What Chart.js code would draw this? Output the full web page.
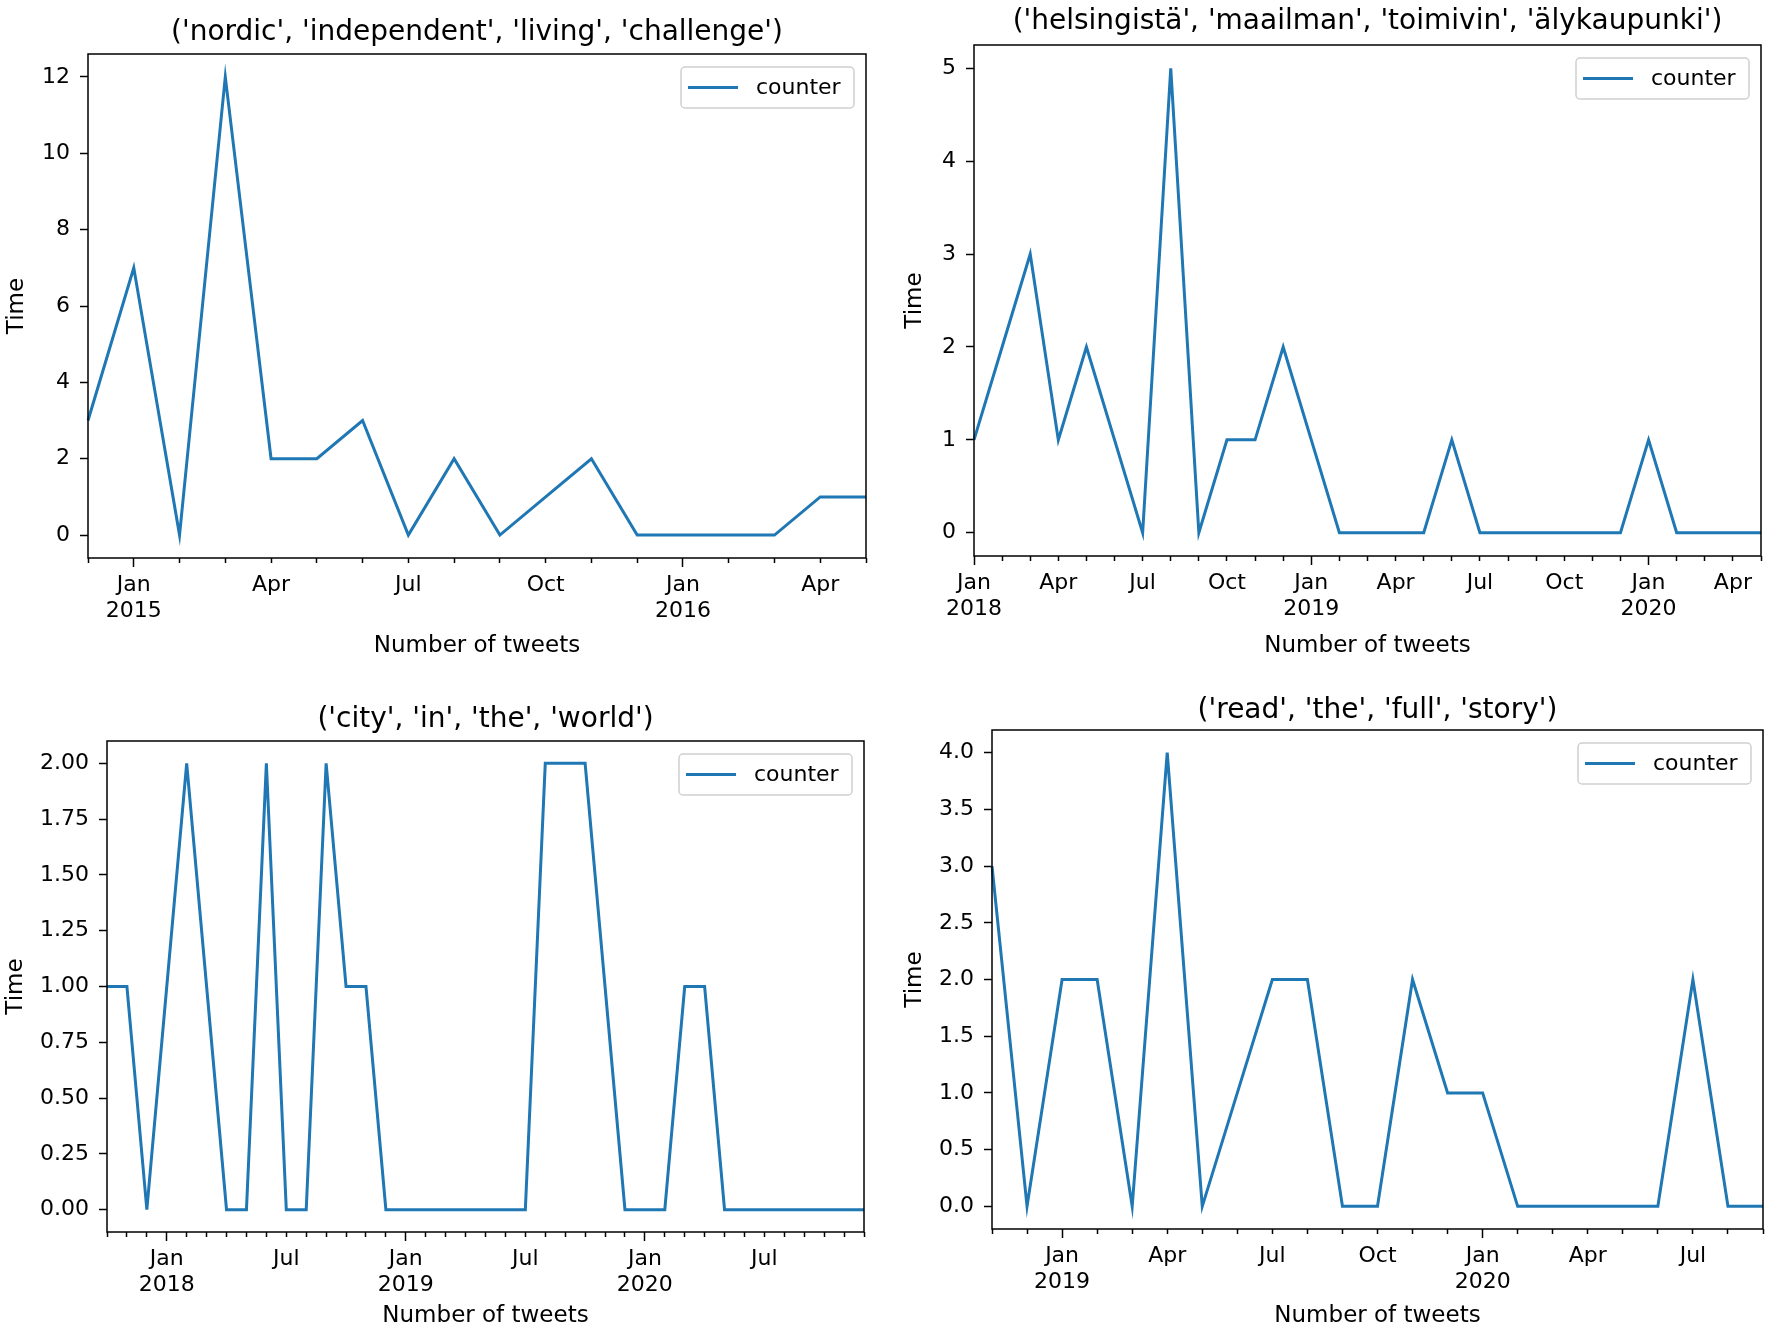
<!DOCTYPE html>
<html>
<head>
<meta charset="utf-8">
<script src="https://cdn.jsdelivr.net/npm/chart.js@4.4.1/dist/chart.umd.min.js"></script>
<style>
  body { margin: 0; background: #fff; }
  #wrap { position: relative; width: 1772px; height: 1331px; background: #fff; }
  canvas { position: absolute; }
</style>
</head>
<body>
<div id="wrap">
  <canvas id="g1" width="886" height="665" style="left:0;top:0;width:886px;height:665px"></canvas>
  <canvas id="g2" width="886" height="665" style="left:886px;top:0;width:886px;height:665px"></canvas>
  <canvas id="g3" width="886" height="666" style="left:0;top:665px;width:886px;height:666px"></canvas>
  <canvas id="g4" width="886" height="666" style="left:886px;top:665px;width:886px;height:666px"></canvas>
</div>
<script>
// dados de cada grafico (contagem mensal)
const mesesNordic = ['2014-12','2015-01','2015-02','2015-03','2015-04','2015-05','2015-06','2015-07','2015-08','2015-09','2015-10','2015-11','2015-12','2016-01','2016-02','2016-03','2016-04','2016-05'];
const valoresNordic = [3,7,0,12,2,2,3,0,2,0,1,2,0,0,0,0,1,1];
const ticksNordic = [0,2,4,6,8,10,12];

const mesesHelsinki = ['2018-01','2018-02','2018-03','2018-04','2018-05','2018-06','2018-07','2018-08','2018-09','2018-10','2018-11','2018-12','2019-01','2019-02','2019-03','2019-04','2019-05','2019-06','2019-07','2019-08','2019-09','2019-10','2019-11','2019-12','2020-01','2020-02','2020-03','2020-04','2020-05'];
const valoresHelsinki = [1,2,3,1,2,1,0,5,0,1,1,2,1,0,0,0,0,1,0,0,0,0,0,0,1,0,0,0,0];
const ticksHelsinki = [0,1,2,3,4,5];

const mesesCity = ['2017-10','2017-11','2017-12','2018-01','2018-02','2018-03','2018-04','2018-05','2018-06','2018-07','2018-08','2018-09','2018-10','2018-11','2018-12','2019-01','2019-02','2019-03','2019-04','2019-05','2019-06','2019-07','2019-08','2019-09','2019-10','2019-11','2019-12','2020-01','2020-02','2020-03','2020-04','2020-05','2020-06','2020-07','2020-08','2020-09','2020-10','2020-11','2020-12'];
const valoresCity = [1,1,0,1,2,1,0,0,2,0,0,2,1,1,0,0,0,0,0,0,0,0,2,2,2,1,0,0,0,1,1,0,0,0,0,0,0,0,0];
const ticksCity = [0,0.25,0.5,0.75,1,1.25,1.5,1.75,2];

const mesesRead = ['2018-11','2018-12','2019-01','2019-02','2019-03','2019-04','2019-05','2019-06','2019-07','2019-08','2019-09','2019-10','2019-11','2019-12','2020-01','2020-02','2020-03','2020-04','2020-05','2020-06','2020-07','2020-08','2020-09'];
const valoresRead = [3,0,2,2,0,4,0,1,2,2,0,0,2,1,1,0,0,0,0,0,2,0,0];
const ticksRead = [0,0.5,1,1.5,2,2.5,3,3.5,4];

const nomesMeses = ['Jan','Feb','Mar','Apr','May','Jun','Jul','Aug','Sep','Oct','Nov','Dec'];

Chart.defaults.font.family = 'DejaVu Sans';
Chart.defaults.color = '#000';

const FONTE = 22;
const FONTE_EIXO = 23;
const FONTE_TITULO = 28;

//desenha a moldura do eixo e a legenda no canto
const moldura = {
    id: 'moldura',
    afterDatasetsDraw(chart) {
        const {ctx, chartArea} = chart;
        ctx.save();
        ctx.strokeStyle = '#000';
        ctx.lineWidth = 1.5;
        ctx.strokeRect(chartArea.left, chartArea.top, chartArea.right - chartArea.left, chartArea.bottom - chartArea.top);

        const ds = chart.data.datasets[0];
        const w = 173, h = 41;
        const x = chartArea.right - 12 - w;
        const y = chartArea.top + 13;
        ctx.beginPath();
        ctx.roundRect(x, y, w, h, 4);
        ctx.fillStyle = 'rgba(255,255,255,0.8)';
        ctx.fill();
        ctx.strokeStyle = '#d0d0d0';
        ctx.lineWidth = 1.5;
        ctx.stroke();

        ctx.beginPath();
        ctx.moveTo(x + 7, y + h / 2);
        ctx.lineTo(x + 57, y + h / 2);
        ctx.strokeStyle = ds.borderColor;
        ctx.lineWidth = 3;
        ctx.stroke();

        ctx.fillStyle = '#000';
        ctx.font = FONTE + 'px "DejaVu Sans"';
        ctx.textBaseline = 'middle';
        ctx.textAlign = 'left';
        ctx.fillText(ds.label, x + 75, y + h / 2 + 1);
        ctx.restore();
    }
};

function criaGrafico(id, titulo, meses, valores, yTicks, casas, mesesRotulo, caixa) {
    const canvas = document.getElementById(id);
    const W = canvas.width, H = canvas.height;
    const lhE = FONTE_EIXO * 1.2, lhT = FONTE_TITULO * 1.2;
    const lo = Math.min(...valores), hi = Math.max(...valores);
    const margem = (hi - lo) * 0.05;
    const padTop = caixa.tituloY - lhT / 2;
    const ehJan = (i) => meses[i] && meses[i].endsWith('-01');

    return new Chart(canvas, {
        type: 'line',
        data: {
            labels: meses,
            datasets: [{
                label: 'counter',
                data: valores,
                borderColor: '#1f77b4',
                borderWidth: 3,
                pointRadius: 0,
                fill: false,
                tension: 0
            }]
        },
        options: {
            responsive: false,
            animation: false,
            devicePixelRatio: 1,
            layout: { padding: { left: 0, right: W - caixa.dir, top: 0, bottom: 0 } },
            plugins: {
                legend: { display: false },
                tooltip: { enabled: false },
                title: {
                    display: true,
                    fullSize: false,
                    text: titulo,
                    color: '#000',
                    font: { size: FONTE_TITULO, weight: 'normal' },
                    padding: { top: padTop, bottom: caixa.topo - padTop - lhT }
                }
            },
            scales: {
                x: {
                    type: 'category',
                    offset: false,
                    border: { display: false },
                    grid: {
                        drawOnChartArea: false,
                        drawTicks: true,
                        tickLength: 9,
                        tickColor: '#000',
                        tickWidth: 1.5,
                        // meses sem janeiro ficam com o traço curto
                        tickBorderDash: (c) => ehJan(c.index) ? [] : [5, 30]
                    },
                    ticks: {
                        autoSkip: false,
                        maxRotation: 0,
                        padding: 5,
                        font: { size: FONTE },
                        callback: function (value) {
                            const [ano, mes] = this.getLabelForValue(value).split('-').map(Number);
                            if (!mesesRotulo.includes(mes)) return '';
                            if (mes === 1) return [nomesMeses[0], String(ano)];
                            return nomesMeses[mes - 1];
                        }
                    },
                    title: {
                        display: true,
                        text: 'Number of tweets',
                        font: { size: FONTE_EIXO },
                        padding: { top: 0, bottom: (H - caixa.numeroY) - lhE / 2 }
                    },
                    afterFit: (s) => { s.height = H - caixa.base; }
                },
                y: {
                    min: lo - margem,
                    max: hi + margem,
                    border: { display: false },
                    grid: { drawOnChartArea: false, drawTicks: true, tickLength: 8, tickColor: '#000', tickWidth: 1.5 },
                    ticks: {
                        padding: 10,
                        font: { size: FONTE },
                        callback: (v) => v.toFixed(casas)
                    },
                    afterBuildTicks: (s) => { s.ticks = yTicks.map(v => ({ value: v })); },
                    title: {
                        display: true,
                        text: 'Time',
                        font: { size: FONTE_EIXO },
                        padding: { top: caixa.tempoX - lhE / 2, bottom: 0 }
                    },
                    afterFit: (s) => { s.width = caixa.esq; }
                }
            }
        },
        plugins: [moldura]
    });
}

criaGrafico('g1', "('nordic', 'independent', 'living', 'challenge')", mesesNordic, valoresNordic, ticksNordic, 0, [1, 4, 7, 10],
    { esq: 88, dir: 866, topo: 54, base: 558, tituloY: 33, tempoX: 17, numeroY: 646 });
criaGrafico('g2', "('helsingistä', 'maailman', 'toimivin', 'älykaupunki')", mesesHelsinki, valoresHelsinki, ticksHelsinki, 0, [1, 4, 7, 10],
    { esq: 88, dir: 875, topo: 45, base: 556, tituloY: 22, tempoX: 29, numeroY: 646 });
criaGrafico('g3', "('city', 'in', 'the', 'world')", mesesCity, valoresCity, ticksCity, 2, [1, 7],
    { esq: 107, dir: 864, topo: 76, base: 567, tituloY: 55, tempoX: 16, numeroY: 651 });
criaGrafico('g4', "('read', 'the', 'full', 'story')", mesesRead, valoresRead, ticksRead, 1, [1, 4, 7, 10],
    { esq: 106, dir: 877, topo: 65, base: 564, tituloY: 46, tempoX: 29, numeroY: 651 });
</script>
</body>
</html>
